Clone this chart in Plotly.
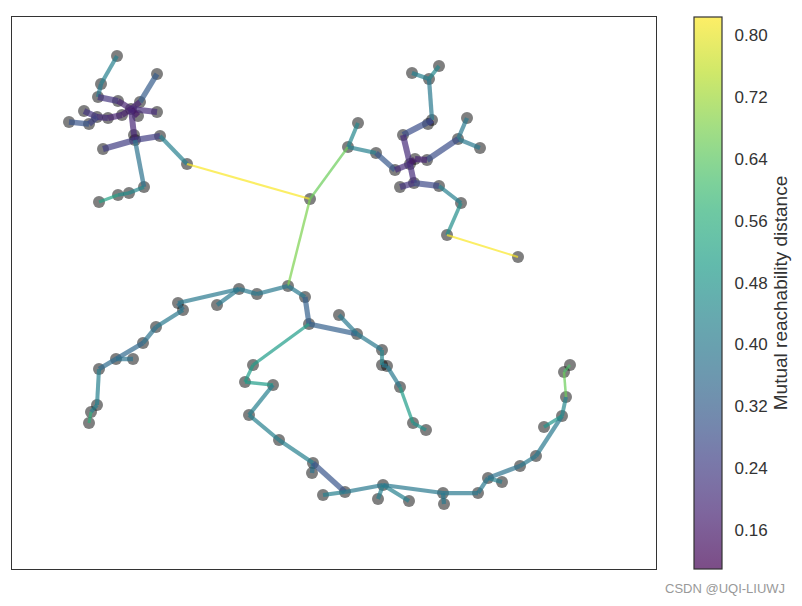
import plotly.graph_objects as go
from plotly.colors import sample_colorscale, unlabel_rgb

# Node positions (y grows downward in this layout)
node_x = [117, 101, 98, 118, 140, 157, 131, 157, 122, 108, 97, 84, 69, 89, 138, 134, 135, 160, 103, 187,
          144, 129, 118, 99,
          310,
          412, 439, 429, 432, 428, 467, 358, 403, 458, 480, 348, 376, 415, 410, 427, 395, 414, 400, 439, 461,
          447, 518,
          288, 257, 239, 217, 178, 183, 156, 143, 116, 133, 99, 97, 91, 89,
          305, 309, 339, 357, 382, 382, 387, 400, 413, 426,
          253, 245, 273, 249, 279, 313, 312, 345, 323, 383, 378, 409, 443, 444, 478, 488, 502, 520, 536, 562,
          544, 566, 564, 570]
node_y = [56, 84, 97, 101, 102, 74, 109, 112, 115, 118, 117, 111, 122, 124, 116, 135, 140, 136, 149, 164,
          187, 193, 195, 202,
          199,
          73, 66, 79, 120, 124, 118, 123, 135, 139, 148, 147, 153, 159, 164, 160, 170, 183, 187, 186, 203,
          235, 257,
          286, 294, 289, 305, 303, 310, 327, 343, 359, 359, 369, 405, 412, 423,
          297, 324, 315, 334, 350, 365, 366, 387, 423, 430,
          365, 382, 385, 415, 440, 463, 473, 492, 495, 485, 499, 501, 493, 504, 493, 478, 482, 466, 456, 416,
          427, 397, 372, 365]

# Tree edges: source node, target node, mutual reachability distance
edge_src = [0, 1, 2, 3, 5, 4, 6, 6, 6, 8, 9, 10, 10, 13, 6, 15, 16, 16, 17, 16, 20, 21, 22,
            19, 24, 24,
            25, 26, 27, 28, 28, 32, 30, 34, 33, 31, 35, 36, 40, 38, 37, 38, 41, 41, 43, 44, 45,
            47, 48, 49, 49, 51, 52, 53, 54, 55, 55, 57, 58, 59,
            47, 61, 62, 63, 64, 65, 66, 67, 68, 69,
            62, 71, 72, 73, 74, 75, 76, 76, 78, 78, 80, 80, 80, 83, 83, 85, 86, 86, 88, 89, 90, 90, 92, 93]
edge_dst = [1, 2, 3, 6, 4, 6, 7, 14, 8, 9, 10, 11, 13, 12, 15, 16, 17, 18, 19, 20, 21, 22, 23,
            24, 35, 47,
            27, 27, 28, 29, 32, 38, 33, 33, 39, 35, 36, 40, 38, 37, 39, 41, 42, 43, 44, 45, 46,
            48, 49, 50, 51, 52, 53, 54, 55, 56, 57, 58, 59, 60,
            61, 62, 64, 64, 65, 66, 67, 68, 69, 70,
            71, 72, 73, 74, 75, 76, 77, 78, 79, 80, 81, 82, 83, 84, 85, 86, 87, 88, 89, 90, 91, 92, 93, 94]
edge_w = [0.42, 0.40, 0.22, 0.18, 0.32, 0.18, 0.20, 0.15, 0.17, 0.18, 0.20, 0.22, 0.25, 0.30, 0.19, 0.17, 0.24,
          0.24, 0.42, 0.38, 0.44, 0.46, 0.52,
          0.82, 0.66, 0.68,
          0.42, 0.44, 0.40, 0.22, 0.28, 0.20, 0.40, 0.40, 0.28, 0.44, 0.42, 0.31, 0.20, 0.16, 0.18, 0.20, 0.22,
          0.27, 0.42, 0.46, 0.82,
          0.40, 0.40, 0.40, 0.40, 0.38, 0.40, 0.38, 0.35, 0.38, 0.36, 0.42, 0.42, 0.56,
          0.40, 0.33, 0.33, 0.40, 0.40, 0.44, 0.40, 0.40, 0.50, 0.47,
          0.50, 0.50, 0.50, 0.42, 0.42, 0.42, 0.38, 0.30, 0.42, 0.40, 0.42, 0.42, 0.40, 0.40, 0.40, 0.40, 0.42,
          0.38, 0.40, 0.40, 0.48, 0.44, 0.66, 0.62]

cbar_ticks = [0.16, 0.24, 0.32, 0.40, 0.48, 0.56, 0.64, 0.72, 0.80]
cmin, cmax = 0.11, 0.823
alpha = 0.7
FONT = "Liberation Sans, Arial, sans-serif"


def blend(rgb_str, a):
    r, g, b = unlabel_rgb(rgb_str)
    return tuple(c * a + 255 * (1 - a) for c in (r, g, b))


fig = go.Figure()

# nodes
fig.add_trace(go.Scatter(x=node_x, y=node_y, mode="markers",
                         marker=dict(size=12, color="rgba(0,0,0,0.5)", line=dict(width=0)),
                         hoverinfo="skip", showlegend=False))

# edges
for s, d, w in zip(edge_src, edge_dst, edge_w):
    t = (w - cmin) / (cmax - cmin)
    t = min(max(t, 0), 1)
    col = sample_colorscale("Viridis", [t])[0]
    r, g, b = unlabel_rgb(col)
    width = min(6.0, 1.7 / w)
    fig.add_trace(go.Scatter(x=[node_x[s], node_x[d]], y=[node_y[s], node_y[d]], mode="lines",
                             line=dict(color=f"rgba({r:.0f},{g:.0f},{b:.0f},{alpha})", width=width),
                             hoverinfo="skip", showlegend=False))

# faded viridis colorscale for the colorbar
n = 21
stops = [i / (n - 1) for i in range(n)]
cols = sample_colorscale("Viridis", stops)
faded = [[s, "rgb(%d,%d,%d)" % blend(c, alpha)] for s, c in zip(stops, cols)]

fig.add_trace(go.Scatter(x=[None], y=[None], mode="markers", showlegend=False, hoverinfo="skip",
                         marker=dict(color=[cmin], cmin=cmin, cmax=cmax, colorscale=faded, showscale=True,
                                     colorbar=dict(x=1.059, xanchor="left", xpad=0, y=0.5, yanchor="middle",
                                                   len=1, lenmode="fraction", thickness=28, ypad=0,
                                                   outlinecolor="#333333", outlinewidth=1.2,
                                                   tickvals=cbar_ticks,
                                                   ticktext=[f"{v:.2f}" for v in cbar_ticks],
                                                   ticks="outside", ticklen=9, tickcolor="rgba(0,0,0,0)",
                                                   tickfont=dict(size=17, color="#333333", family=FONT),
                                                   title=dict(text="Mutual reachability distance", side="right",
                                                              font=dict(size=19, color="#333333", family=FONT))))))

fig.update_xaxes(range=[12, 656], showgrid=False, zeroline=False, showticklabels=False, ticks="",
                 showline=True, mirror=True, linecolor="#333333", linewidth=1.3)
fig.update_yaxes(range=[569, 17], showgrid=False, zeroline=False, showticklabels=False, ticks="",
                 showline=True, mirror=True, linecolor="#333333", linewidth=1.3)

fig.add_annotation(text="CSDN @UQI-LIUWJ", xref="paper", yref="paper", x=1.0 + (787 - 656) / 644, y=-19 / 552,
                   xanchor="right", yanchor="middle", showarrow=False,
                   font=dict(size=13, color="#999999", family=FONT))

# the page body has an 8px default margin, so the figure is shrunk and shifted to compensate
fig.update_layout(width=794, height=598, margin=dict(l=4, r=146, t=9, b=37),
                  paper_bgcolor="white", plot_bgcolor="white", showlegend=False)

fig.write_html("out.html")
